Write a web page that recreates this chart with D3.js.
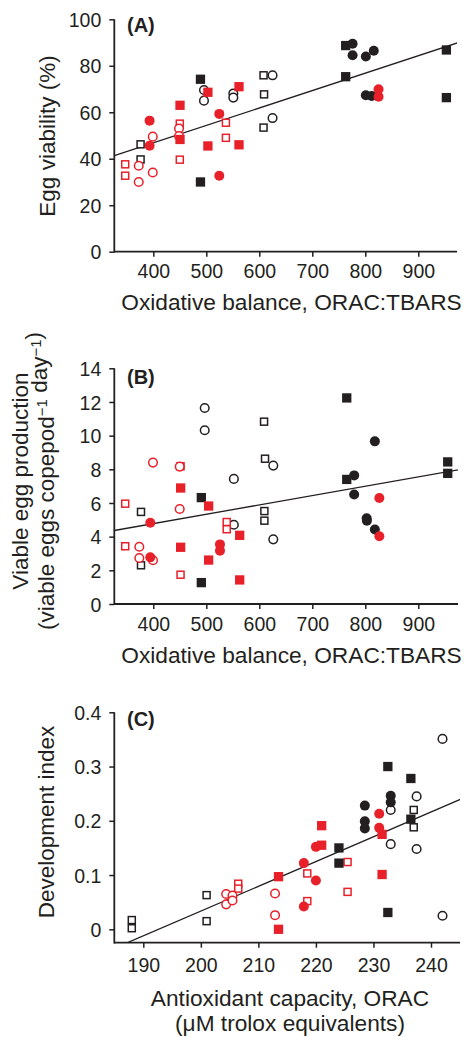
<!DOCTYPE html>
<html>
<head>
<meta charset="utf-8">
<script src="https://cdn.jsdelivr.net/npm/d3@7"></script>
<style>
  body { margin: 0; background: #fff; }
  svg text { font-family: "Liberation Sans", Arial, sans-serif; fill: #231f20; }
</style>
</head>
<body>
<svg id="chart" width="464" height="1037"></svg>
<script>
// ---- data: [x, y] pairs per marker type ----
// Panel A: egg viability (%) vs ORAC:TBARS
const a_blackOpenSq   = [[376, 46.2], [376, 39.7], [608, 75.9], [609, 67.7], [608, 53.4]];
const a_blackOpenCirc = [[495.6, 69.6], [495.6, 65], [551, 68.1], [551, 66.3], [625, 75.9], [625, 57.5]];
const a_redOpenSq     = [[347, 37.6], [347, 32.7], [450, 55.1], [450, 39.6], [537, 55.5], [537, 49]];
const a_redOpenCirc   = [[372.5, 37], [372.5, 30], [399, 49.5], [399, 34.1], [448.5, 53], [448.5, 49.8]];
const a_blackSq       = [[489, 74.2], [489, 30], [763, 88.7], [763, 75.3], [953, 86.8], [953, 66.3]];
const a_blackCirc     = [[776, 89.5], [776, 84.5], [801, 84], [816, 86.5], [801, 67.3], [812, 67]];
const a_redSq         = [[450.4, 63], [450.4, 48.3], [503, 68.6], [503, 45.5], [561.7, 71], [561.7, 46]];
const a_redCirc       = [[393, 56.4], [393, 45.6], [524.5, 59.3], [524.5, 32.7], [825, 69.9], [825, 66.7]];

// Panel B: viable egg production vs ORAC:TBARS
const b_blackOpenSq   = [[376.8, 5.47], [376.8, 2.3], [609, 10.83], [610.8, 8.63], [609.6, 5.52], [609.6, 4.95]];
const b_blackOpenCirc = [[497, 11.64], [497, 10.32], [552, 7.43], [552, 4.71], [626.4, 8.22], [626.4, 3.84]];
const b_redOpenSq     = [[347, 5.96], [347, 3.43], [451.4, 8.18], [451.4, 1.74], [538.5, 4.87], [538.5, 4.44]];
const b_redOpenCirc   = [[399.4, 8.4], [399.4, 2.6], [373.6, 3.4], [373.6, 2.73], [449.8, 8.16], [449.8, 5.64]];
const b_blackSq       = [[765, 12.24], [765, 7.4], [955.5, 8.44], [955.5, 7.76], [490.6, 6.32], [490.6, 1.27]];
const b_blackCirc     = [[818, 9.66], [779, 7.64], [779, 6.5], [802.6, 5.09], [803, 4.95], [818, 4.43]];
const b_redSq         = [[451.6, 6.89], [451.6, 3.37], [504.4, 5.82], [504.4, 2.61], [563, 4.08], [563, 1.43]];
const b_redCirc       = [[394.3, 4.83], [394.3, 2.77], [525.8, 3.54], [525.8, 3.17], [826.5, 6.3], [826.5, 4.02]];

// Panel C: development index vs ORAC
const c_blackOpenSq   = [[188, 0.017], [188, 0.002], [201, 0.063], [201, 0.015], [237, 0.22], [237, 0.188]];
const c_blackOpenCirc = [[233, 0.22], [233, 0.157], [237.5, 0.245], [237.5, 0.148], [242, 0.351], [242, 0.025]];
const c_redOpenSq     = [[206.5, 0.084], [206.5, 0.075], [218.5, 0.103], [218.5, 0.052], [225.5, 0.124], [225.5, 0.069]];
const c_redOpenCirc   = [[204.4, 0.065], [204.4, 0.046], [205.5, 0.062], [205.5, 0.053], [212.9, 0.066], [212.9, 0.026]];
const c_blackSq       = [[232.5, 0.30], [232.5, 0.031], [236.5, 0.278], [236.5, 0.203], [224, 0.15], [224, 0.122]];
const c_blackCirc     = [[228.5, 0.228], [228.5, 0.199], [228.5, 0.186], [233, 0.246], [233, 0.234]];
const c_redSq         = [[213.5, 0.097], [213.5, 0.0], [221, 0.191], [221, 0.155], [231.5, 0.175], [231.5, 0.101]];
const c_redCirc       = [[231, 0.213], [231, 0.187], [217.9, 0.122], [217.9, 0.042], [220, 0.152], [220, 0.09]];

// fitted lines [intercept, slope]
const fitA = [16.9, 0.0749];
const fitB = [2.55, 0.00556];
const fitC = [-0.879, 0.004563];

// tick values
const xTicksOx = [400, 500, 600, 700, 800, 900];
const yTicksA = [0, 20, 40, 60, 80, 100];
const yTicksB = [0, 2, 4, 6, 8, 10, 12, 14];
const xTicksC = [190, 200, 210, 220, 230, 240];
const yTicksC = [0, 0.1, 0.2, 0.3, 0.4];

const RED = '#e8202a', BLACK = '#231f20';

const svg = d3.select('#chart');

// draw order matters: open markers under filled ones
const makeSeries = p => [
  { pts: p[0], color: BLACK, shape: 'sq', open: true },
  { pts: p[1], color: BLACK, shape: 'circ', open: true },
  { pts: p[2], color: RED, shape: 'sq', open: true },
  { pts: p[3], color: RED, shape: 'circ', open: true },
  { pts: p[4], color: BLACK, shape: 'sq', open: false },
  { pts: p[5], color: BLACK, shape: 'circ', open: false },
  { pts: p[6], color: RED, shape: 'sq', open: false },
  { pts: p[7], color: RED, shape: 'circ', open: false },
];

function drawPanel(cfg) {
  const g = svg.append('g');
  const x = d3.scaleLinear().domain(cfg.xDom).range(cfg.xRange);
  const y = d3.scaleLinear().domain(cfg.yDom).range(cfg.yRange);

  const clipId = 'clip' + cfg.label;
  svg.append('clipPath').attr('id', clipId)
    .append('rect')
    .attr('x', cfg.left).attr('y', cfg.top)
    .attr('width', cfg.right - cfg.left).attr('height', cfg.axisY - cfg.top);

  // axes
  const xAxis = d3.axisBottom(x).tickValues(cfg.xTicks).tickSize(5).tickPadding(cfg.xPad).tickSizeOuter(0);
  const yAxis = d3.axisLeft(y).tickValues(cfg.yTicks).tickSize(5).tickPadding(8).tickSizeOuter(0)
    .tickFormat(cfg.yFmt || d3.format('d'));

  const gx = g.append('g').attr('transform', `translate(0,${cfg.axisY})`).call(xAxis);
  const gy = g.append('g').attr('transform', `translate(${cfg.left},0)`).call(yAxis);
  [gx, gy].forEach(a => {
    a.select('.domain').remove();
    a.selectAll('line').attr('stroke', BLACK).attr('stroke-width', 1.5);
    a.selectAll('text').style('font-size', '19.5px').attr('fill', BLACK);
  });
  gy.selectAll('text').attr('dy', '0.36em');

  g.append('line')
    .attr('x1', cfg.left).attr('x2', cfg.right)
    .attr('y1', cfg.axisY).attr('y2', cfg.axisY)
    .attr('stroke', BLACK).attr('stroke-width', 1.8);
  g.append('line')
    .attr('x1', cfg.left).attr('x2', cfg.left)
    .attr('y1', cfg.axisY + 0.9).attr('y2', y(cfg.yTicks[cfg.yTicks.length - 1]))
    .attr('stroke', BLACK).attr('stroke-width', 1.8);

  // fitted line
  const x0 = x.invert(cfg.left), x1 = x.invert(cfg.right + 4);
  g.append('line')
    .attr('clip-path', `url(#${clipId})`)
    .attr('x1', x(x0)).attr('y1', y(cfg.fit[0] + cfg.fit[1] * x0))
    .attr('x2', x(x1)).attr('y2', y(cfg.fit[0] + cfg.fit[1] * x1))
    .attr('stroke', BLACK).attr('stroke-width', 1.3);

  // markers
  makeSeries(cfg.data).forEach(s => {
    const m = g.append('g');
    if (s.shape === 'sq') {
      const side = s.open ? 7 : 9.3;
      m.selectAll('rect').data(s.pts).join('rect')
        .attr('x', d => x(d[0]) - side / 2)
        .attr('y', d => y(d[1]) - side / 2)
        .attr('width', side).attr('height', side)
        .attr('fill', s.open ? '#fff' : s.color)
        .attr('stroke', s.open ? s.color : 'none')
        .attr('stroke-width', 1.5);
    } else {
      m.selectAll('circle').data(s.pts).join('circle')
        .attr('cx', d => x(d[0]))
        .attr('cy', d => y(d[1]))
        .attr('r', s.open ? 4.3 : 5)
        .attr('fill', s.open ? '#fff' : s.color)
        .attr('stroke', s.open ? s.color : 'none')
        .attr('stroke-width', 1.5);
    }
  });

  // panel letter
  g.append('text')
    .attr('x', 127).attr('y', cfg.letterY)
    .style('font-size', '20px').style('font-weight', 'bold')
    .text(`(${cfg.label})`);

  // x title
  cfg.xTitle.forEach((t, i) => {
    g.append('text')
      .attr('x', cfg.xTitleX).attr('y', cfg.xTitleY[i])
      .attr('text-anchor', 'middle')
      .style('font-size', '22.7px')
      .text(t);
  });

  // y title(s)
  cfg.yTitle.forEach(t => {
    const txt = g.append('text')
      .attr('transform', `translate(${t.x},${t.y}) rotate(-90)`)
      .attr('text-anchor', 'middle')
      .style('font-size', '22.5px');
    t.parts.forEach(p => {
      if (p.sup) {
        txt.append('tspan').attr('dy', '-0.45em').style('font-size', '15px').text(p.t);
        txt.append('tspan').attr('dy', '0.45em').text('');
      } else {
        txt.append('tspan').text(p.t);
      }
    });
  });
}

drawPanel({
  label: 'A',
  data: [a_blackOpenSq, a_blackOpenCirc, a_redOpenSq, a_redOpenCirc, a_blackSq, a_blackCirc, a_redSq, a_redCirc],
  fit: fitA,
  xDom: [400, 900], xRange: [153.3, 418.3],
  yDom: [0, 100], yRange: [251.7, 19.3],
  left: 114.3, right: 457, top: 19.3, axisY: 251.7, xPad: 7,
  xTicks: xTicksOx, yTicks: yTicksA,
  letterY: 32,
  xTitle: ['Oxidative balance, ORAC:TBARS'], xTitleX: 291.5, xTitleY: [310],
  yTitle: [{ x: 55, y: 136, parts: [{ t: 'Egg viability (%)' }] }]
});

drawPanel({
  label: 'B',
  data: [b_blackOpenSq, b_blackOpenCirc, b_redOpenSq, b_redOpenCirc, b_blackSq, b_blackCirc, b_redSq, b_redCirc],
  fit: fitB,
  xDom: [400, 900], xRange: [153.3, 418.3],
  yDom: [0, 14], yRange: [604, 368.3],
  left: 114.3, right: 458, top: 368.3, axisY: 604, xPad: 8,
  xTicks: xTicksOx, yTicks: yTicksB,
  letterY: 384,
  xTitle: ['Oxidative balance, ORAC:TBARS'], xTitleX: 291.5, xTitleY: [663.3],
  yTitle: [
    { x: 27.5, y: 481, parts: [{ t: 'Viable egg production' }] },
    { x: 54, y: 481, parts: [{ t: '(viable eggs copepod' }, { t: '\u22121', sup: true }, { t: ' day' }, { t: '\u22121', sup: true }, { t: ')' }] }
  ]
});

drawPanel({
  label: 'C',
  data: [c_blackOpenSq, c_blackOpenCirc, c_redOpenSq, c_redOpenCirc, c_blackSq, c_blackCirc, c_redSq, c_redCirc],
  fit: fitC,
  xDom: [190, 240], xRange: [143.3, 431],
  yDom: [0, 0.4], yRange: [929.3, 712.3],
  left: 114.3, right: 460, top: 712.3, axisY: 942.7, xPad: 10,
  xTicks: xTicksC, yTicks: yTicksC, yFmt: d => d === 0 ? '0' : d3.format('.1f')(d),
  letterY: 726,
  xTitle: ['Antioxidant capacity, ORAC', '(\u03bcM trolox equivalents)'], xTitleX: 290, xTitleY: [1005.7, 1030.7],
  yTitle: [{ x: 53.5, y: 822, parts: [{ t: 'Development index' }] }]
});
</script>
</body>
</html>
